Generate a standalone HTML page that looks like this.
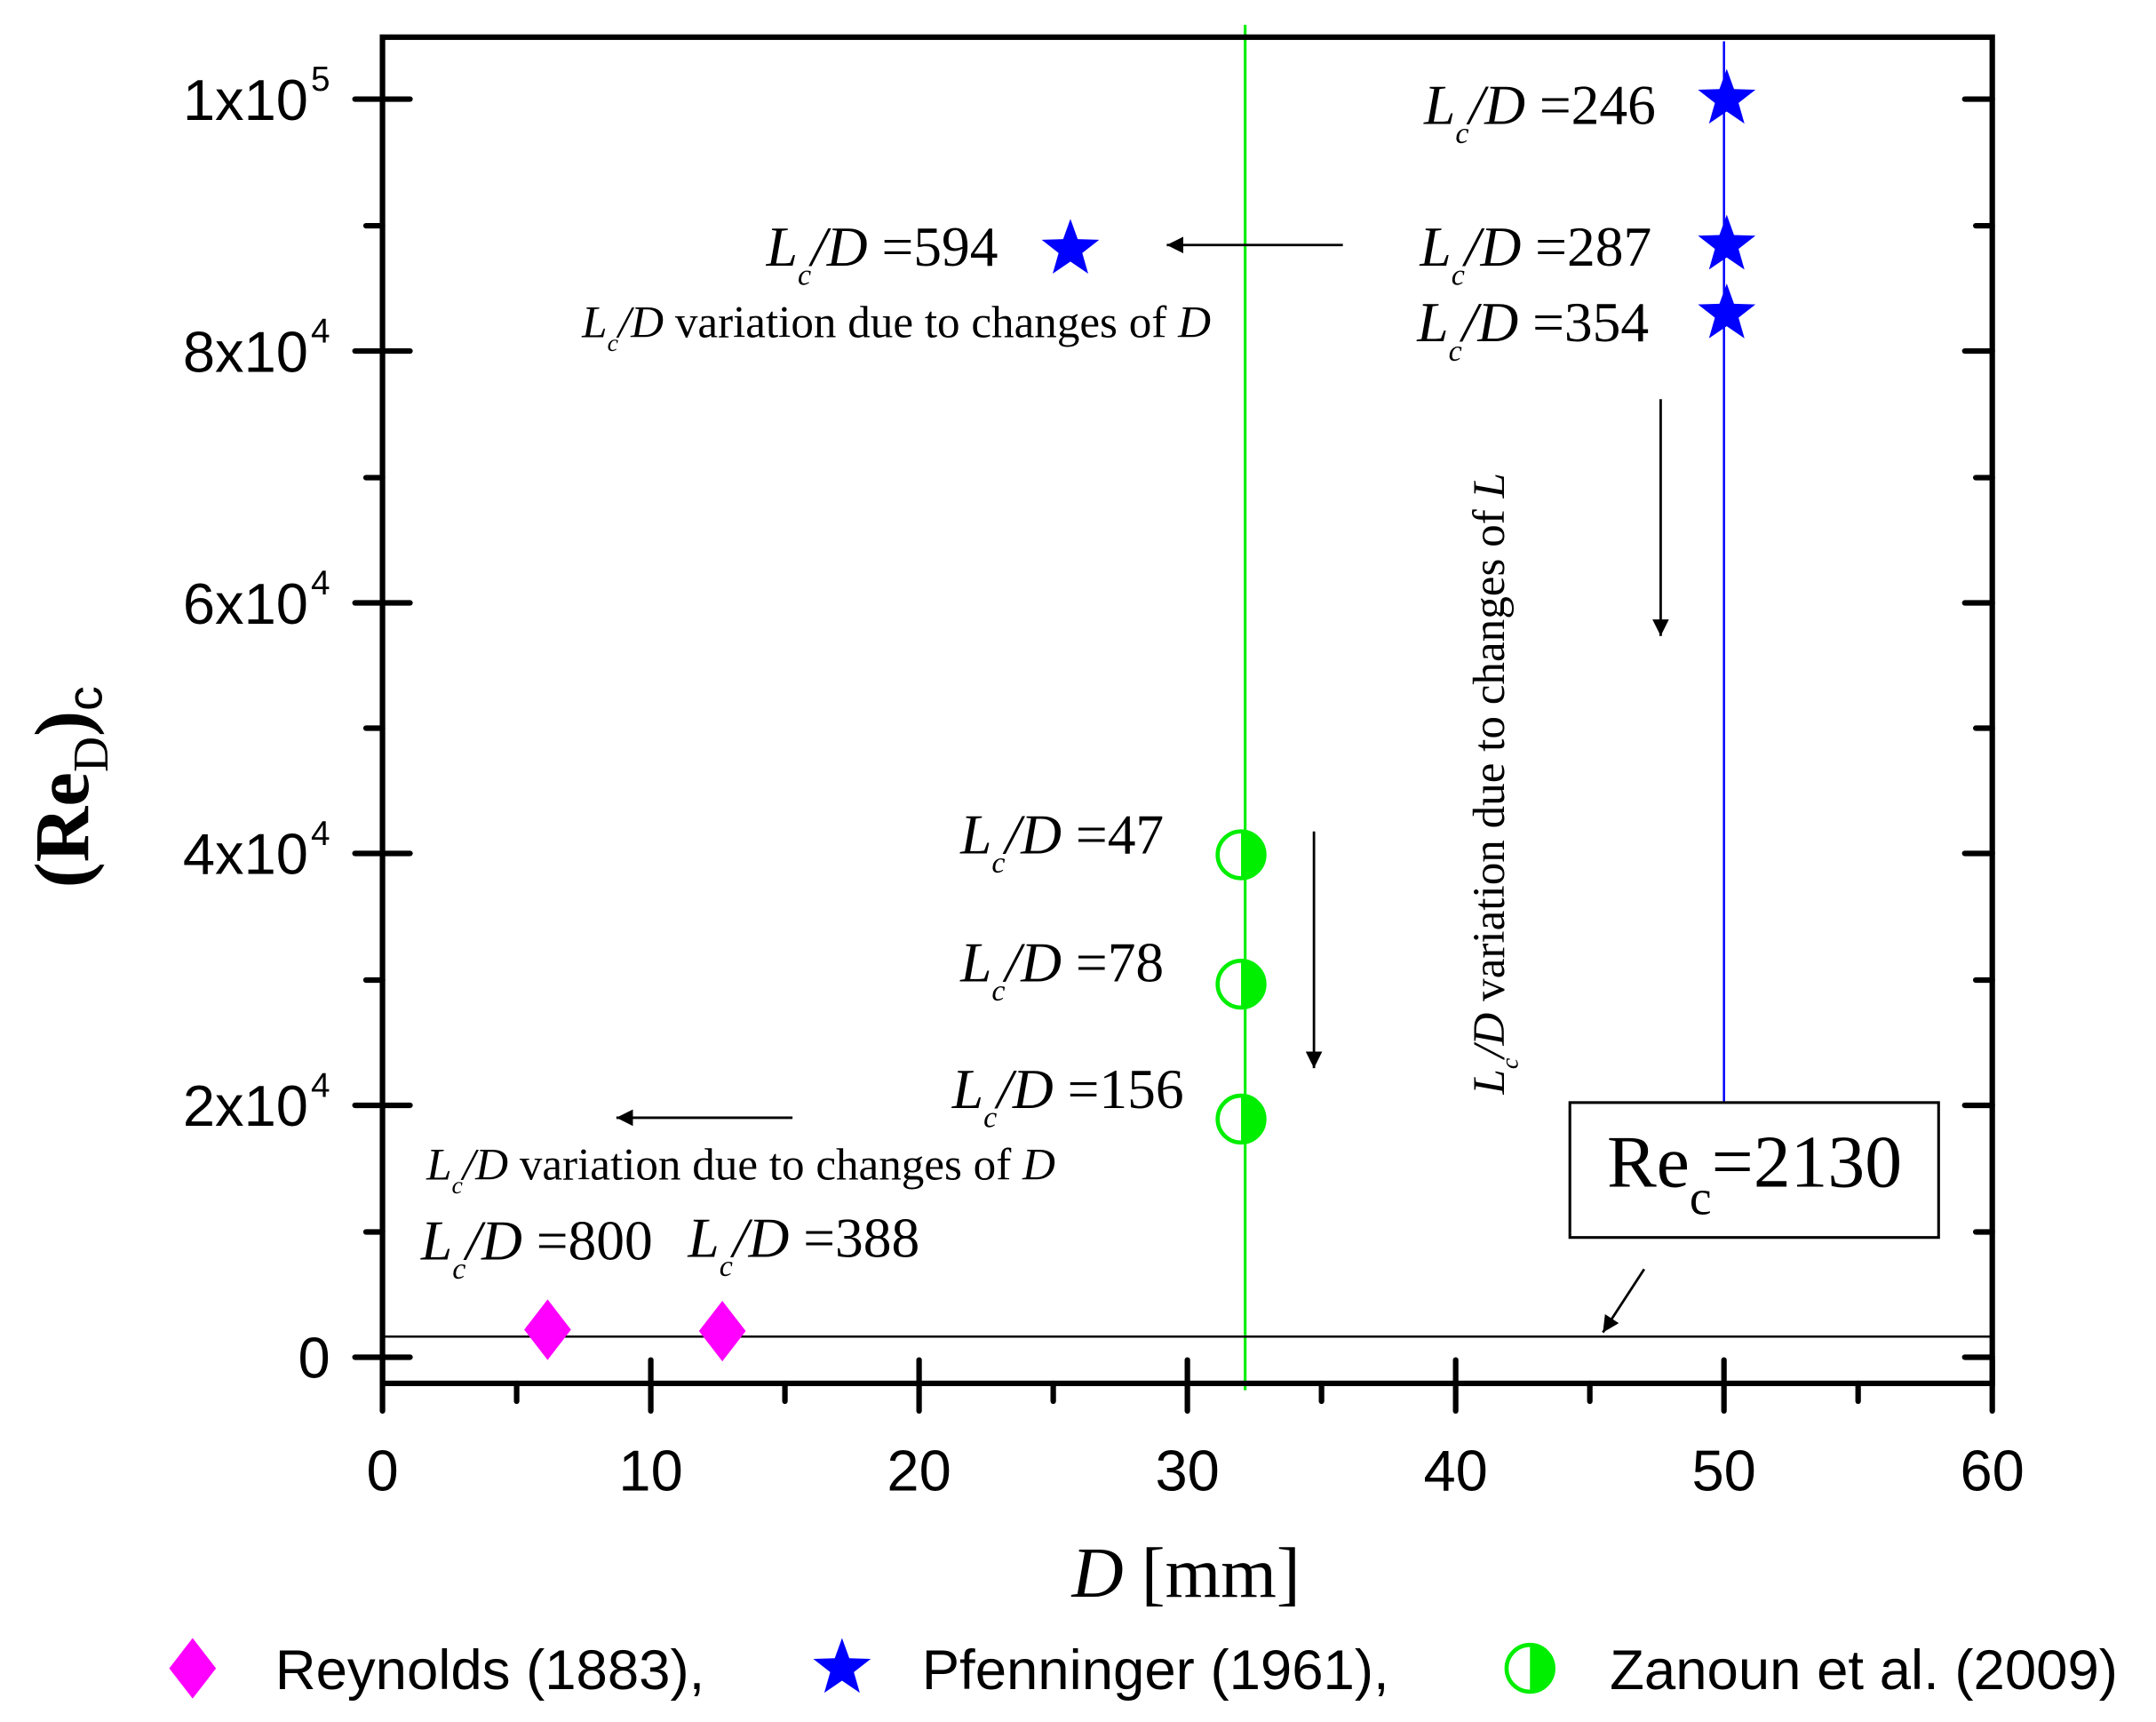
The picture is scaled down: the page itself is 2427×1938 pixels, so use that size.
<!DOCTYPE html>
<html><head><meta charset="utf-8"><style>
html,body{margin:0;padding:0;background:#fff;}
svg{display:block;}
.s{font-family:"Liberation Sans",sans-serif;}
.r{font-family:"Liberation Serif",serif;}
</style></head><body>
<svg width="2427" height="1938" viewBox="0 0 1567 1251" preserveAspectRatio="none" xmlns="http://www.w3.org/2000/svg">
<defs>
<path id="star" d="M0,-22 L5.3,-7.3 L20.9,-6.8 L8.6,2.8 L12.9,17.8 L0,9 L-12.9,17.8 L-8.6,2.8 L-20.9,-6.8 L-5.3,-7.3 Z" fill="#0000ff"/>
<path id="dia" d="M0,-22 L17,0 L0,22 L-17,0 Z" fill="#ff00ff"/>
<g id="half"><circle r="17" fill="#fff" stroke="#00ee00" stroke-width="3"/><path d="M0,-17 A17,17 0 0 1 0,17 Z" fill="#00ee00"/></g>
<marker id="ah" viewBox="0 0 10 10" refX="10" refY="5" markerWidth="26" markerHeight="12" orient="auto" markerUnits="userSpaceOnUse"><path d="M0,0 L10,5 L0,10 Z" fill="#000"/></marker>
</defs>
<rect width="1567" height="1251" fill="#fff"/>
<line x1="905" y1="18" x2="905" y2="1010" stroke="#00ee00" stroke-width="2"/>
<line x1="1253" y1="30" x2="1253" y2="801" stroke="#0000ff" stroke-width="1.6"/>
<line x1="278" y1="971" x2="1448" y2="971" stroke="#000" stroke-width="1.6"/>
<rect x="278" y="27" width="1170" height="978" fill="none" stroke="#000" stroke-width="4"/>
<g stroke="#000" stroke-width="4" stroke-linecap="round">
<line x1="258" y1="986" x2="298" y2="986"/><line x1="258" y1="803" x2="298" y2="803"/><line x1="258" y1="620" x2="298" y2="620"/><line x1="258" y1="438" x2="298" y2="438"/><line x1="258" y1="255" x2="298" y2="255"/><line x1="258" y1="72" x2="298" y2="72"/>
<line x1="1428" y1="986" x2="1448" y2="986"/><line x1="1428" y1="803" x2="1448" y2="803"/><line x1="1428" y1="620" x2="1448" y2="620"/><line x1="1428" y1="438" x2="1448" y2="438"/><line x1="1428" y1="255" x2="1448" y2="255"/><line x1="1428" y1="72" x2="1448" y2="72"/>
<line x1="266" y1="895" x2="278" y2="895"/><line x1="266" y1="712" x2="278" y2="712"/><line x1="266" y1="529" x2="278" y2="529"/><line x1="266" y1="347" x2="278" y2="347"/><line x1="266" y1="164" x2="278" y2="164"/>
<line x1="1436" y1="895" x2="1448" y2="895"/><line x1="1436" y1="712" x2="1448" y2="712"/><line x1="1436" y1="529" x2="1448" y2="529"/><line x1="1436" y1="347" x2="1448" y2="347"/><line x1="1436" y1="164" x2="1448" y2="164"/>
<line x1="278" y1="988" x2="278" y2="1025"/><line x1="473" y1="988" x2="473" y2="1025"/><line x1="668" y1="988" x2="668" y2="1025"/><line x1="863" y1="988" x2="863" y2="1025"/><line x1="1058" y1="988" x2="1058" y2="1025"/><line x1="1253" y1="988" x2="1253" y2="1025"/><line x1="1448" y1="988" x2="1448" y2="1025"/>
<line x1="375.5" y1="1005" x2="375.5" y2="1018"/><line x1="570.5" y1="1005" x2="570.5" y2="1018"/><line x1="765.5" y1="1005" x2="765.5" y2="1018"/><line x1="960.5" y1="1005" x2="960.5" y2="1018"/><line x1="1155.5" y1="1005" x2="1155.5" y2="1018"/><line x1="1350.5" y1="1005" x2="1350.5" y2="1018"/>
</g>
<g class="s" font-size="42" fill="#000" text-anchor="end">
<text x="240" y="1001">0</text>
<text x="224" y="818">2x10</text>
<text x="224" y="635">4x10</text>
<text x="224" y="453">6x10</text>
<text x="224" y="270">8x10</text>
<text x="224" y="87">1x10</text>
</g>
<g class="s" font-size="25" fill="#000">
<text x="226" y="797">4</text><text x="226" y="614">4</text><text x="226" y="432">4</text><text x="226" y="249">4</text><text x="226" y="66">5</text>
</g>
<g class="s" font-size="42" fill="#000" text-anchor="middle">
<text x="278" y="1083">0</text><text x="473" y="1083">10</text><text x="668" y="1083">20</text><text x="863" y="1083">30</text><text x="1058" y="1083">40</text><text x="1253" y="1083">50</text><text x="1448" y="1083">60</text>
</g>
<text class="r" x="862" y="1160" font-size="52" text-anchor="middle"><tspan font-style="italic">D</tspan> [mm]</text>
<g transform="translate(64,645) rotate(-90)"><text class="r" font-size="56" font-weight="bold">(Re<tspan font-size="36" font-weight="normal" dy="14">D</tspan><tspan dy="-14">)</tspan><tspan font-size="36" font-weight="normal" class="s" dy="10">c</tspan></text></g>
<use href="#star" x="1255" y="72"/><use href="#star" x="1255" y="178"/><use href="#star" x="1255" y="228"/><use href="#star" x="778" y="181"/>
<use href="#dia" x="398" y="966"/><use href="#dia" x="525" y="967"/>
<use href="#half" x="902" y="621"/><use href="#half" x="902" y="715"/><use href="#half" x="902" y="813"/>
<g stroke="#000" stroke-width="1.8" fill="none" marker-end="url(#ah)">
<line x1="976" y1="178" x2="848" y2="178"/>
<line x1="576" y1="812" x2="448" y2="812"/>
<line x1="1207" y1="290" x2="1207" y2="462"/>
<line x1="955" y1="604" x2="955" y2="776"/>
<line x1="1195" y1="922" x2="1165" y2="968"/>
</g>
<rect x="1141" y="801" width="268" height="98" fill="#fff" stroke="#000" stroke-width="2"/>
<text class="r" x="1168" y="862" font-size="54">Re<tspan font-size="36" dy="20">c</tspan><tspan dy="-20">=2130</tspan></text>
<g class="r" font-size="41" fill="#000">
<text x="1035" y="90"><tspan font-style="italic">L</tspan><tspan font-size="22" dy="14" font-style="italic">c</tspan><tspan dy="-14" font-style="italic">/D</tspan> =246</text>
<text x="1032" y="193"><tspan font-style="italic">L</tspan><tspan font-size="22" dy="14" font-style="italic">c</tspan><tspan dy="-14" font-style="italic">/D</tspan> =287</text>
<text x="1030" y="248"><tspan font-style="italic">L</tspan><tspan font-size="22" dy="14" font-style="italic">c</tspan><tspan dy="-14" font-style="italic">/D</tspan> =354</text>
<text x="557" y="193"><tspan font-style="italic">L</tspan><tspan font-size="22" dy="14" font-style="italic">c</tspan><tspan dy="-14" font-style="italic">/D</tspan> =594</text>
<text x="698" y="620"><tspan font-style="italic">L</tspan><tspan font-size="22" dy="14" font-style="italic">c</tspan><tspan dy="-14" font-style="italic">/D</tspan> =47</text>
<text x="698" y="713"><tspan font-style="italic">L</tspan><tspan font-size="22" dy="14" font-style="italic">c</tspan><tspan dy="-14" font-style="italic">/D</tspan> =78</text>
<text x="692" y="805"><tspan font-style="italic">L</tspan><tspan font-size="22" dy="14" font-style="italic">c</tspan><tspan dy="-14" font-style="italic">/D</tspan> =156</text>
<text x="306" y="915"><tspan font-style="italic">L</tspan><tspan font-size="22" dy="14" font-style="italic">c</tspan><tspan dy="-14" font-style="italic">/D</tspan> =800</text>
<text x="500" y="913"><tspan font-style="italic">L</tspan><tspan font-size="22" dy="14" font-style="italic">c</tspan><tspan dy="-14" font-style="italic">/D</tspan> =388</text>
</g>
<g class="r" font-size="33" fill="#000">
<text x="423" y="245"><tspan font-style="italic">L</tspan><tspan font-size="18" dy="10" font-style="italic">c</tspan><tspan dy="-10" font-style="italic">/D</tspan> variation due to changes of <tspan font-style="italic">D</tspan></text>
<text x="310" y="857"><tspan font-style="italic">L</tspan><tspan font-size="18" dy="10" font-style="italic">c</tspan><tspan dy="-10" font-style="italic">/D</tspan> variation due to changes of <tspan font-style="italic">D</tspan></text>
<text transform="translate(1093,795) rotate(-90)"><tspan font-style="italic">L</tspan><tspan font-size="18" dy="10" font-style="italic">c</tspan><tspan dy="-10" font-style="italic">/D</tspan> variation due to changes of <tspan font-style="italic">L</tspan></text>
</g>
<use href="#dia" x="140" y="1212"/>
<use href="#star" x="612" y="1212"/>
<use href="#half" x="1112" y="1212"/>
<g class="s" font-size="41" fill="#000">
<text x="200" y="1227">Reynolds (1883),</text>
<text x="670" y="1227">Pfenninger (1961),</text>
<text x="1170" y="1227">Zanoun et al. (2009)</text>
</g>
</svg>
</body></html>
